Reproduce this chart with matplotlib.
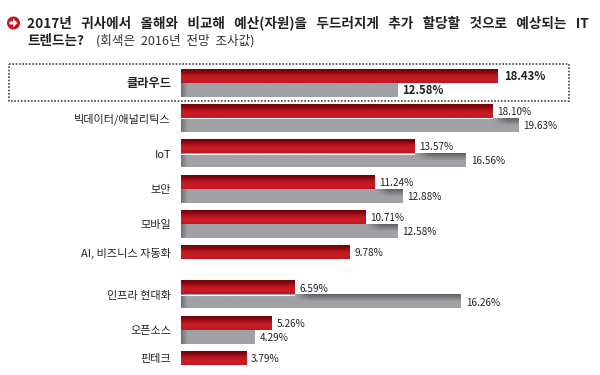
import numpy as np
import matplotlib
matplotlib.use("Agg")
import matplotlib.pyplot as plt
from matplotlib.patches import Circle, Polygon, Rectangle

plt.rcParams['font.family'] = ['Noto Sans CJK KR', 'DejaVu Sans']

categories = ['클라우드', '빅데이터/애널리틱스', 'IoT', '보안', '모바일',
              'AI, 비즈니스 자동화', '인프라 현대화', '오픈소스', '핀테크']
val_2017 = [18.43, 18.10, 13.57, 11.24, 10.71, 9.78, 6.59, 5.26, 3.79]
val_2016 = [12.58, 19.63, 16.56, 12.88, 12.58, None, 16.26, 4.29, None]
title_1 = '2017년 귀사에서 올해와 비교해 예산(자원)을 두드러지게 추가 할당할 것으로 예상되는 IT'
title_2 = '트렌드는?'
title_note = '(회색은 2016년 전망 조사값)'

W, H = 600, 375
PX_X = 17.2    # pixels per percent
PX_Y = 35.25   # pixels per row
X0, Y0 = 181, 83


def red_img():
    # dark on top, bright from the middle down
    c = np.array([[118, 4, 10], [145, 10, 18], [178, 20, 30], [197, 26, 36], [200, 28, 38], [192, 24, 34]]) / 255
    return c[:, None, :]


def gray_img(v, red_v):
    n_y, n_x = 14, max(int(v * PX_X), 2)
    img = np.ones((n_y, n_x, 3)) * np.array([160, 161, 165]) / 255
    # soft dark edge on the left
    left = np.clip(np.arange(n_x) / 6, 0, 1)[None, :, None]
    img = img * (0.72 + 0.28 * left)
    # shadow where the grey bar sticks out past the red one
    if red_v is not None and v > red_v:
        xs = np.arange(n_x) / PX_X
        sx = np.clip((xs - red_v) * PX_X / 14, 0, 1)
        sy = np.clip(np.arange(n_y) / 7, 0, 1)
        img = img * (1 - 0.38 * sx[None, :, None] * (1 - sy)[:, None, None])
    return img


fig = plt.figure(figsize=(W / 100, H / 100), dpi=100)
ax = fig.add_axes([0, 0, 1, 1])
ax.axis('off')

BAR = 14 / PX_Y
NUDGE = 1 / PX_Y
for i, (cat, r, g) in enumerate(zip(categories, val_2017, val_2016)):
    top = i == 0
    ax.imshow(red_img(), extent=[0, r, i, i - BAR], aspect='auto', interpolation='bilinear', zorder=3)
    if g is not None:
        ax.imshow(gray_img(g, r), extent=[0, g, i + BAR, i], aspect='auto', interpolation='bilinear', zorder=2)
    if i in (1, 2, 6):
        # thin white seam between the two bars on these rows
        ax.plot([0, r], [i, i], color='white', lw=0.8, zorder=4)
    ax.text(-10 / PX_X, (i if g is not None else i - BAR / 2) + NUDGE, cat, ha='right', va='center',
            fontsize=8.8 if top else 8.0, fontweight='bold' if top else 'normal', color='#222222')
    fs, fw = (8.2, 'bold') if top else (7.2, 'normal')
    ax.text(r + (6 if top else 5) / PX_X, i - BAR / 2 + NUDGE, f'{r:.2f}%', ha='left', va='center', fontsize=fs,
            fontweight=fw, color='#222222', zorder=5)
    if g is not None:
        ax.text(g + 5 / PX_X, i + BAR / 2 + NUDGE, f'{g:.2f}%', ha='left', va='center', fontsize=fs,
                fontweight=fw, color='#222222', zorder=5)
ax.set_xlim(-X0 / PX_X, (W - X0) / PX_X)
ax.set_ylim((H - Y0) / PX_Y, -Y0 / PX_Y)

# overlay in pixel coordinates: box, icon, title
ov = fig.add_axes([0, 0, 1, 1], facecolor='none')
ov.set_xlim(0, W)
ov.set_ylim(H, 0)
ov.axis('off')
ov.add_patch(Rectangle((8.5, 63.5), 560.5, 37, fill=False, ec='#444444', lw=1.2, ls=(0, (1, 1))))
ov.add_patch(Circle((13.5, 23), 6.5, fc='#c8141e', ec='none'))
ov.add_patch(Polygon([(9.5, 21.5), (13, 21.5), (13, 18.5), (17.5, 23), (13, 27.5), (13, 24.5), (9.5, 24.5)],
                     fc='white', ec='none'))
ov.text(27, 23, title_1.replace(' ', '   '), ha='left', va='center', fontsize=9.8, fontweight='bold', color='#222222')
ov.text(27, 41, title_2, ha='left', va='center', fontsize=9.8, fontweight='bold', color='#222222')
ov.text(96, 41, title_note.replace(' ', '  '), ha='left', va='center', fontsize=9.1, color='#333333')

fig.savefig('out.png', dpi=100)
